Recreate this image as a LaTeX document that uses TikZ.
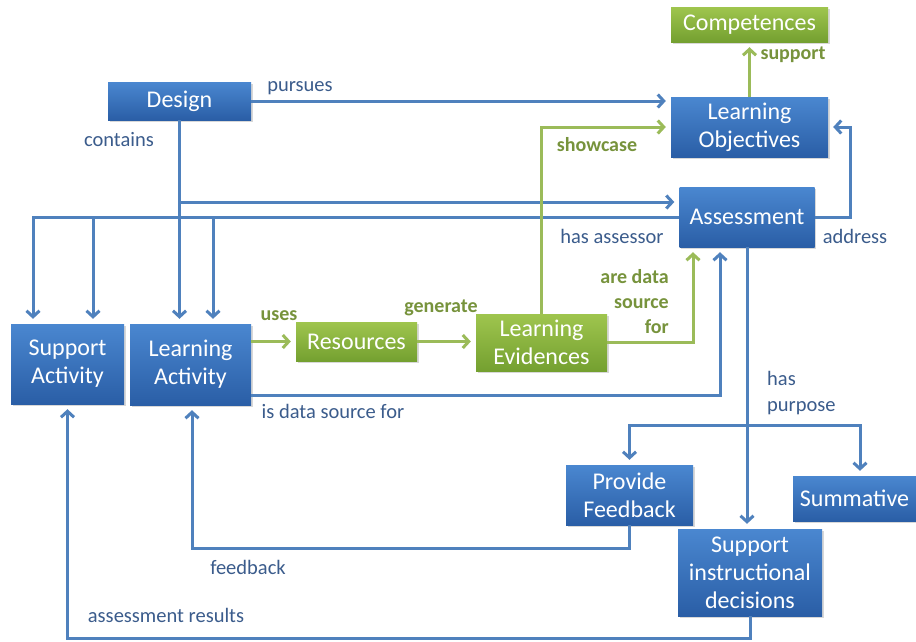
\documentclass[tikz,border=0pt]{standalone}
\usepackage{fontspec}
\setmainfont{Carlito}
\usetikzlibrary{arrows.meta,shadows}
\definecolor{boxtop}{HTML}{4A87D0}
\definecolor{boxbot}{HTML}{2A5EA6}
\definecolor{grtop}{HTML}{9FC54E}
\definecolor{grbot}{HTML}{74A030}
\definecolor{lineblue}{HTML}{4F81BD}
\definecolor{linegreen}{HTML}{9BBB59}
\definecolor{lblblue}{HTML}{3B5C8C}
\definecolor{lblgreen}{HTML}{77933C}
\tikzset{
  bbox/.style={draw=none, top color=boxtop, bottom color=boxbot, text=white,
    font=\fontsize{24}{28}\selectfont, align=center, inner sep=0pt,
    drop shadow={shadow xshift=1.5pt, shadow yshift=-1.5pt, opacity=0.3}},
  gbox/.style={bbox, top color=grtop, bottom color=grbot},
  bl/.style={draw=lineblue, line width=3pt},
  gl/.style={draw=linegreen, line width=3pt},
  arr/.style={-{Straight Barb[length=6pt,width=13pt]}, shorten >=5pt},
  lbl/.style={text=lblblue, font=\fontsize{20.5}{26}\selectfont, inner sep=0pt},
  glbl/.style={text=lblgreen, font=\fontsize{20}{25}\selectfont\bfseries, inner sep=0pt},
}
\begin{document}
\begin{tikzpicture}[x=1pt,y=-1pt]
\path[use as bounding box, fill=white] (0,0) rectangle (916,641);

% nodes
\node[bbox, minimum width=143pt, minimum height=38pt] (design) at (179.5,101) {Design};
\node[gbox, minimum width=157pt, minimum height=35pt] (comp) at (749.5,24.5) {Competences};
\node[bbox, minimum width=157pt, minimum height=60pt] (lo) at (749.5,127) {Learning\\Objectives};
\node[bbox, minimum width=135pt, minimum height=60pt] (as) at (747,217) {Assessment};
\node[bbox, minimum width=113pt, minimum height=80pt] (sa) at (67.5,364) {Support\\Activity};
\node[bbox, minimum width=121pt, minimum height=81pt] (la) at (190.5,364.5) {Learning\\Activity};
\node[gbox, minimum width=121pt, minimum height=39pt] (res) at (356.5,341.5) {Resources};
\node[gbox, minimum width=131pt, minimum height=57pt] (le) at (541.5,342.5) {Learning\\Evidences};
\node[bbox, minimum width=127pt, minimum height=60pt] (pf) at (629.5,495) {Provide\\Feedback};
\node[bbox, minimum width=123pt, minimum height=45pt] (sum) at (854.5,498.5) {Summative};
\node[bbox, minimum width=144pt, minimum height=87pt] (sid) at (750,572.5) {Support\\instructional\\decisions};

% junction coordinates
\coordinate (j1) at (179.5,202);
\coordinate (j2) at (179.5,217);
\coordinate (j3) at (213,217);
\coordinate (j4) at (747,425);
\coordinate (f1) at (629.5,548);
\coordinate (r1) at (750,638);

% blue connectors
\draw[bl,arr] (design.east) -- (design.east -| lo.west);
\draw[bl,arr] (design.south) -- (design.south |- la.north);
\draw[bl,arr] (j1) -- (j1 -| as.west);
\draw[bl,arr] (j2) -| ([xshift=25.5pt]sa.north);
\draw[bl,arr] (as.west) -| ([xshift=-34.5pt]sa.north);
\draw[bl,arr] (j3) -- ([xshift=22.5pt]la.north);
\draw[bl,arr] (as.east) -- ++(36,0) |- (lo.east);
\draw[bl,arr] ([yshift=-30.5pt]la.east) -| ([xshift=-27pt]as.south);
\draw[bl,arr] (as.south) -- (as.south |- sid.north);
\draw[bl,arr] (j4) -| (pf.north);
\draw[bl,arr] (j4) -| ([xshift=5.5pt]sum.north);
\draw[bl,arr] (pf.south) -- (f1) -| ([xshift=1.5pt]la.south);
\draw[bl,arr] (sid.south) -- (sid.south |- r1) -| (sa.south);

% green connectors
\draw[gl,arr] (lo.north) -- (comp.south);
\draw[gl,arr] (le.north) |- (lo.west);
\draw[gl,arr] (le.east) -| ([xshift=-54pt]as.south);
\draw[gl,arr] (la.east |- res.west) -- (res.west);
\draw[gl,arr] (res.east) -- (res.east -| le.west);

% labels
\node[lbl] (l1) at (300,88) {pursues};
\node[lbl] (l2) at (119,140) {contains};
\node[lbl] (l3) at (612,236) {has assessor};
\node[lbl] (l4) at (855,236) {address};
\node[lbl] (l5) at (333,411) {is data source for};
\node[lbl, align=left, anchor=north west] (l6) at (767,371) {has\\purpose};
\node[lbl] (l7) at (248,567) {feedback};
\node[lbl] (l8) at (166,615) {assessment results};
\node[glbl] (g1) at (793,55) {support};
\node[glbl] (g2) at (597,145) {showcase};
\node[glbl] (g3) at (279,316) {uses};
\node[glbl] (g4) at (441,308) {generate};
\node[glbl, align=right, anchor=north east] (g5) at (669,269) {are data\\source\\for};
\end{tikzpicture}
\end{document}
